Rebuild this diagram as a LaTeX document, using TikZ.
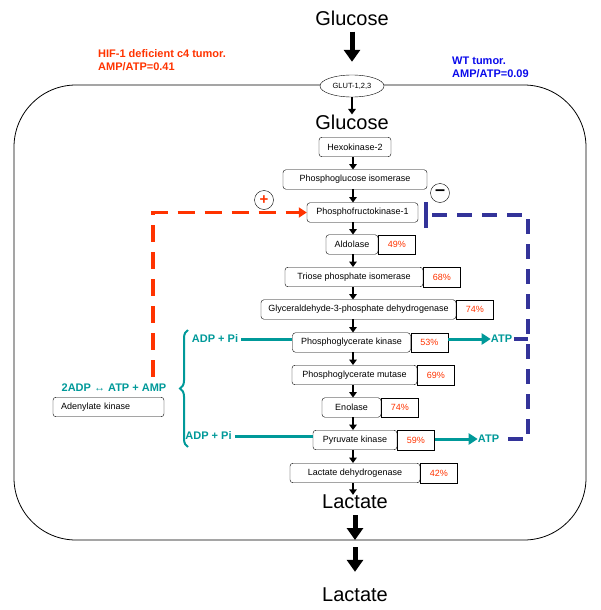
\documentclass[tikz,border=0pt]{standalone}
\usepackage{fontspec}
\setmainfont{Liberation Sans}
\usepackage{xcolor}
\usetikzlibrary{positioning,arrows.meta,shapes.geometric,decorations.pathreplacing}
\definecolor{hifred}{RGB}{255,51,0}
\definecolor{wtblue}{RGB}{10,10,235}
\definecolor{inhblue}{RGB}{51,51,153}
\definecolor{atpteal}{RGB}{0,153,153}

\begin{document}
\begin{tikzpicture}[x=1pt,y=-1pt]
	\tikzstyle{every node}=[inner sep=0pt]
	\tikzstyle{enz}=[draw,rounded corners=3pt,minimum height=19.5pt,font=\fontsize{9}{10}\selectfont]
	\tikzstyle{pct}=[draw,minimum height=19.5pt,minimum width=37pt,text=hifred,font=\fontsize{9}{10}\selectfont]
	\tikzstyle{big}=[font=\fontsize{20}{22}\selectfont]
	\tikzstyle{sa}=[-{Triangle[length=5.5pt,width=7.5pt]},line width=1.4pt]
	\tikzstyle{fat}=[-{Triangle[length=12pt,width=16pt]},line width=5pt]
	\tikzstyle{tealtxt}=[text=atpteal,font=\bfseries\fontsize{11}{13}\selectfont]
	\tikzstyle{atpline}=[atpteal,line width=3pt]
	\tikzstyle{act}=[hifred,line width=3.5pt,dash pattern=on 17pt off 10pt,-{Triangle[length=8pt,width=10pt]}]
	\tikzstyle{inh}=[inhblue,line width=3.5pt,dash pattern=on 15pt off 10pt]
	%\tikzstyle{cell}=[draw,rounded corners=62pt]
	\useasboundingbox (0,0) rectangle (600,610);
	% cell
	\draw[line width=0.8pt,rounded corners=62pt] (14,85) rectangle (586,540);
	\node[big] (glc) at (352,18) {Glucose};
	\node[draw,ellipse,fill=white,minimum width=64pt,minimum height=22pt,font=\fontsize{7.5}{8}\selectfont] (glut) at (352,86) {GLUT-1,2,3};
	\node[big] (gin) at (352,122) {Glucose};
	\node[text=hifred,font=\bfseries\fontsize{11}{13}\selectfont,align=left,anchor=north west] (hif) at (98,49) {HIF-1 deficient c4 tumor.\\AMP/ATP=0.41};
	\node[text=wtblue,font=\bfseries\fontsize{11}{13}\selectfont,align=left,anchor=north west] (wt) at (452,57) {WT tumor.\\AMP/ATP=0.09};
	% glycolysis
	\node[enz,minimum width=72pt] (hk) at (355,147) {Hexokinase-2};
	\node[enz,minimum width=144pt] (pgi) at (355,179.5) {Phosphoglucose isomerase};
	\node[enz,minimum width=111pt] (pfk) at (362.5,212.5) {Phosphofructokinase-1};
	\node[enz,minimum width=52pt] (ald) at (352,244.5) {Aldolase};
	\node[enz,minimum width=138pt] (tpi) at (354,277) {Triose phosphate isomerase};
	\node[enz,minimum width=195pt] (gapdh) at (358.5,309.5) {Glyceraldehyde-3-phosphate dehydrogenase};
	\node[enz,minimum width=118pt] (pgk) at (351.5,342.5) {Phosphoglycerate kinase};
	\node[enz,minimum width=125pt] (pgm) at (354.5,375) {Phosphoglycerate mutase};
	\node[enz,minimum width=59pt] (eno) at (351.5,407.5) {Enolase};
	\node[enz,minimum width=84pt] (pk) at (355,440) {Pyruvate kinase};
	\node[enz,minimum width=130pt] (ldh) at (355,473) {Lactate dehydrogenase};
	\node[big] (lin) at (355,502) {Lactate};
	\node[big] (lout) at (355,595) {Lactate};
	\foreach \e/\v in {ald/49,tpi/68,gapdh/74,pgk/53,pgm/69,eno/74,pk/59,ldh/42}
		\node[pct,right=0pt of \e] (p-\e) {\v\%};
	\coordinate (ax) at (353,0);
	\foreach \a/\b in {hk/pgi,pgi/pfk,pfk/ald,ald/tpi,tpi/gapdh,gapdh/pgk,pgk/pgm,pgm/eno,eno/pk,pk/ldh,ldh/lin}
		\draw[sa] (\a.south -| ax) -- (\b.north -| ax);
	\draw[sa] (glut.south) -- (gin.north);
	\coordinate (memb) at (355,540);
	\draw[fat,shorten <=6pt,shorten >=13pt] (glc.south) -- (glut.north);
	\draw[fat,shorten <=6pt] (lin.south) -- (memb);
	\draw[fat,shorten <=7pt,shorten >=16pt] (memb) -- (lout.north);
	% ATP
	\node[tealtxt] (adp1) at (215,339) {ADP + Pi};
	\node[tealtxt] (adp2) at (208.5,436) {ADP + Pi};
	\node[tealtxt] (atp1) at (501.5,339) {ATP};
	\node[tealtxt] (atp2) at (488.5,439) {ATP};
	\draw[atpline,shorten <=3pt] (adp1.east) -- (pgk.west |- adp1.east);
	\draw[atpline,shorten <=3pt] (adp2.east) -- (pk.west |- adp2.east);
	\draw[atpline,-{Triangle[length=9pt,width=11pt]}] (p-pgk.east |- atp1) -- (atp1.west);
	\draw[atpline,-{Triangle[length=9pt,width=11pt]}] (p-pk.east |- atp2) -- (atp2.west);
	\draw[atpteal,line width=2pt,decorate,decoration={brace,amplitude=8pt}] (188,447) -- (188,330);
	\node[tealtxt] (eq) at (114,388) {2ADP ↔ ATP + AMP};
	\node[enz,align=left,text width=95pt,inner xsep=8pt] (ak) at (108.5,407) {Adenylate kinase};
	% regulation of PFK-1
	\coordinate (akup) at (153,212);
	\draw[act,shorten <=7pt] (eq.north -| akup) |- (pfk.west);
	\node[draw,circle,minimum size=19pt,text=hifred,font=\bfseries\fontsize{15}{15}\selectfont] (plus) at (264,200) {+};
	\coordinate (bend) at (528,215);
	\draw[inh,shorten <=9pt,-{Bar[width=26pt]}] (atp2.east) -| (bend) -- ([xshift=6pt]pfk.east |- bend);
	\draw[inh,shorten <=2pt] (atp1.east) -- (atp1.east -| bend);
	\node[draw,circle,minimum size=19pt,font=\bfseries\fontsize{18}{18}\selectfont] (minus) at (440,193) {–};
\end{tikzpicture}
\end{document}
